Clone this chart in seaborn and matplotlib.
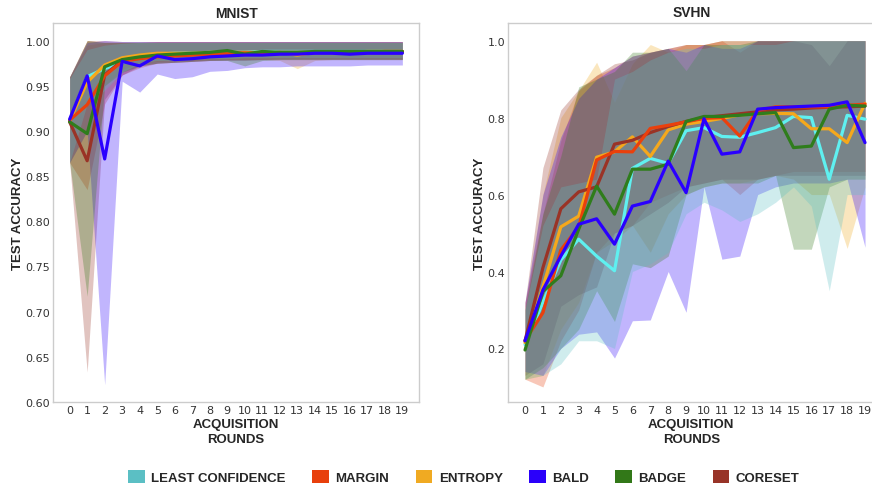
import numpy as np
import pandas as pd
import matplotlib
matplotlib.use("Agg")
import matplotlib.pyplot as plt
from matplotlib.patches import Patch
import seaborn as sns

rounds = list(range(20))
methods = ["LEAST CONFIDENCE", "MARGIN", "ENTROPY", "BALD", "BADGE", "CORESET"]
line_colors = {"LEAST CONFIDENCE": "#5ff0f0", "MARGIN": "#ea400c", "ENTROPY": "#f5a81c",
               "BALD": "#2a00ff", "BADGE": "#2f7d1c", "CORESET": "#9a3326"}
legend_colors = {"LEAST CONFIDENCE": "#5bbfc4", "MARGIN": "#e8400c", "ENTROPY": "#f0aa22",
                 "BALD": "#2a00fa", "BADGE": "#327818", "CORESET": "#983428"}

# ---------------- MNIST ----------------
mnist_lc = [0.911, 0.960, 0.969, 0.976, 0.982, 0.985, 0.986, 0.986, 0.987, 0.987, 0.987, 0.988, 0.988, 0.988, 0.988, 0.988, 0.988, 0.988, 0.988, 0.988]
mnist_margin = [0.912, 0.929, 0.961, 0.977, 0.980, 0.982, 0.983, 0.984, 0.985, 0.986, 0.986, 0.986, 0.987, 0.987, 0.987, 0.987, 0.987, 0.987, 0.988, 0.988]
mnist_entropy = [0.911, 0.954, 0.973, 0.981, 0.984, 0.986, 0.986, 0.986, 0.987, 0.987, 0.987, 0.987, 0.987, 0.984, 0.987, 0.987, 0.987, 0.988, 0.988, 0.988]
mnist_bald = [0.913, 0.961, 0.869, 0.977, 0.972, 0.983, 0.979, 0.980, 0.982, 0.983, 0.984, 0.984, 0.985, 0.985, 0.986, 0.986, 0.985, 0.986, 0.986, 0.986]
mnist_badge = [0.910, 0.897, 0.971, 0.979, 0.982, 0.984, 0.985, 0.986, 0.987, 0.989, 0.985, 0.988, 0.987, 0.987, 0.988, 0.988, 0.988, 0.988, 0.988, 0.988]
mnist_coreset = [0.910, 0.867, 0.962, 0.978, 0.981, 0.983, 0.984, 0.985, 0.985, 0.986, 0.986, 0.986, 0.987, 0.987, 0.987, 0.987, 0.987, 0.987, 0.987, 0.987]

mnist_lc_lo = [0.865, 0.930, 0.945, 0.965, 0.975, 0.978, 0.978, 0.979, 0.980, 0.980, 0.981, 0.981, 0.981, 0.981, 0.981, 0.981, 0.981, 0.981, 0.981, 0.981]
mnist_lc_hi = [0.958, 0.990, 0.995, 0.997, 0.998, 0.998, 0.998, 0.998, 0.998, 0.998, 0.998, 0.998, 0.998, 0.998, 0.998, 0.998, 0.998, 0.998, 0.998, 0.998]
mnist_margin_lo = [0.865, 0.835, 0.930, 0.962, 0.970, 0.975, 0.976, 0.977, 0.978, 0.979, 0.979, 0.979, 0.980, 0.980, 0.980, 0.980, 0.980, 0.980, 0.980, 0.980]
mnist_margin_hi = [0.960, 1.000, 0.998, 0.998, 0.998, 0.999, 0.999, 0.999, 0.999, 0.999, 0.999, 0.999, 0.999, 0.999, 0.999, 0.999, 0.999, 0.999, 0.999, 0.999]
mnist_entropy_lo = [0.865, 0.900, 0.950, 0.968, 0.975, 0.977, 0.978, 0.978, 0.979, 0.979, 0.979, 0.979, 0.978, 0.969, 0.978, 0.979, 0.979, 0.979, 0.979, 0.979]
mnist_entropy_hi = [0.960, 0.995, 0.998, 0.998, 0.998, 0.998, 0.998, 0.998, 0.998, 0.998, 0.998, 0.998, 0.998, 0.998, 0.998, 0.998, 0.998, 0.998, 0.998, 0.998]
mnist_bald_lo = [0.865, 0.900, 0.619, 0.955, 0.943, 0.963, 0.958, 0.960, 0.966, 0.967, 0.970, 0.971, 0.971, 0.972, 0.972, 0.972, 0.972, 0.973, 0.973, 0.973]
mnist_bald_hi = [0.960, 0.998, 1.000, 0.999, 0.999, 0.999, 0.999, 0.999, 0.999, 0.999, 0.999, 0.999, 0.999, 0.999, 0.999, 0.999, 0.999, 0.999, 0.999, 0.999]
mnist_badge_lo = [0.865, 0.717, 0.950, 0.965, 0.972, 0.975, 0.976, 0.977, 0.978, 0.978, 0.972, 0.978, 0.979, 0.979, 0.979, 0.979, 0.979, 0.979, 0.979, 0.979]
mnist_badge_hi = [0.960, 1.000, 0.998, 0.998, 0.998, 0.998, 0.998, 0.998, 0.998, 0.998, 0.998, 0.998, 0.998, 0.998, 0.998, 0.998, 0.998, 0.998, 0.998, 0.998]
mnist_coreset_lo = [0.865, 0.633, 0.935, 0.962, 0.972, 0.975, 0.976, 0.977, 0.978, 0.978, 0.978, 0.979, 0.979, 0.979, 0.979, 0.979, 0.979, 0.979, 0.979, 0.979]
mnist_coreset_hi = [0.960, 1.000, 1.000, 0.999, 0.999, 0.999, 0.999, 0.999, 0.999, 0.999, 0.999, 0.999, 0.999, 0.999, 0.999, 0.999, 0.999, 0.999, 0.999, 0.999]

# ---------------- SVHN ----------------
svhn_lc = [0.210, 0.320, 0.430, 0.484, 0.440, 0.402, 0.668, 0.694, 0.681, 0.766, 0.774, 0.751, 0.749, 0.761, 0.774, 0.803, 0.800, 0.640, 0.806, 0.796]
svhn_margin = [0.220, 0.293, 0.456, 0.516, 0.690, 0.712, 0.711, 0.772, 0.780, 0.789, 0.798, 0.800, 0.752, 0.819, 0.828, 0.828, 0.828, 0.828, 0.832, 0.835]
svhn_entropy = [0.215, 0.360, 0.516, 0.544, 0.697, 0.711, 0.750, 0.699, 0.768, 0.783, 0.790, 0.798, 0.807, 0.810, 0.811, 0.810, 0.771, 0.771, 0.735, 0.837]
svhn_bald = [0.220, 0.352, 0.440, 0.523, 0.537, 0.471, 0.570, 0.582, 0.687, 0.605, 0.797, 0.705, 0.711, 0.822, 0.826, 0.828, 0.830, 0.832, 0.841, 0.735]
svhn_badge = [0.196, 0.348, 0.389, 0.510, 0.622, 0.549, 0.666, 0.666, 0.679, 0.790, 0.803, 0.803, 0.806, 0.810, 0.813, 0.722, 0.726, 0.822, 0.832, 0.830]
svhn_coreset = [0.220, 0.410, 0.563, 0.607, 0.620, 0.731, 0.741, 0.761, 0.777, 0.790, 0.800, 0.805, 0.810, 0.815, 0.820, 0.822, 0.825, 0.827, 0.828, 0.830]

svhn_lc_lo = [0.120, 0.130, 0.160, 0.220, 0.220, 0.200, 0.400, 0.420, 0.450, 0.550, 0.580, 0.560, 0.530, 0.550, 0.580, 0.620, 0.570, 0.350, 0.600, 0.600]
svhn_lc_hi = [0.300, 0.520, 0.620, 0.630, 0.640, 0.900, 0.920, 0.950, 0.970, 0.980, 0.980, 0.990, 0.990, 0.990, 0.990, 1.000, 1.000, 1.000, 1.000, 1.000]
svhn_margin_lo = [0.120, 0.100, 0.220, 0.300, 0.450, 0.500, 0.520, 0.580, 0.600, 0.620, 0.630, 0.640, 0.600, 0.640, 0.650, 0.660, 0.660, 0.660, 0.660, 0.660]
svhn_margin_hi = [0.320, 0.550, 0.740, 0.870, 0.910, 0.930, 0.960, 0.970, 0.980, 0.990, 0.990, 1.000, 0.970, 1.000, 1.000, 1.000, 1.000, 1.000, 1.000, 1.000]
svhn_entropy_lo = [0.120, 0.130, 0.250, 0.320, 0.450, 0.480, 0.520, 0.450, 0.550, 0.600, 0.620, 0.630, 0.630, 0.640, 0.650, 0.640, 0.600, 0.600, 0.460, 0.620]
svhn_entropy_hi = [0.310, 0.600, 0.800, 0.870, 0.944, 0.840, 0.940, 0.990, 0.970, 0.990, 0.990, 1.000, 1.000, 1.000, 1.000, 1.000, 1.000, 1.000, 1.000, 1.000]
svhn_bald_lo = [0.140, 0.130, 0.200, 0.237, 0.243, 0.175, 0.272, 0.274, 0.400, 0.294, 0.620, 0.432, 0.440, 0.600, 0.620, 0.630, 0.630, 0.630, 0.640, 0.463]
svhn_bald_hi = [0.320, 0.600, 0.750, 0.850, 0.900, 0.930, 0.960, 0.970, 0.980, 0.970, 0.990, 0.980, 0.980, 1.000, 1.000, 1.000, 1.000, 1.000, 1.000, 1.000]
svhn_badge_lo = [0.120, 0.150, 0.200, 0.250, 0.350, 0.270, 0.420, 0.410, 0.440, 0.600, 0.620, 0.630, 0.630, 0.630, 0.650, 0.458, 0.458, 0.620, 0.640, 0.640]
svhn_badge_hi = [0.300, 0.550, 0.700, 0.880, 0.900, 0.920, 0.970, 0.970, 0.980, 0.922, 0.990, 0.990, 0.990, 1.000, 1.000, 1.000, 1.000, 1.000, 1.000, 1.000]
svhn_coreset_lo = [0.130, 0.160, 0.310, 0.340, 0.360, 0.500, 0.520, 0.550, 0.580, 0.620, 0.630, 0.640, 0.640, 0.640, 0.650, 0.650, 0.650, 0.650, 0.650, 0.650]
svhn_coreset_hi = [0.320, 0.670, 0.820, 0.874, 0.910, 0.940, 0.950, 0.970, 0.980, 0.990, 0.990, 1.000, 1.000, 1.000, 1.000, 1.000, 0.990, 0.935, 1.000, 1.000]

mnist = {
    "LEAST CONFIDENCE": (mnist_lc, mnist_lc_lo, mnist_lc_hi),
    "MARGIN": (mnist_margin, mnist_margin_lo, mnist_margin_hi),
    "ENTROPY": (mnist_entropy, mnist_entropy_lo, mnist_entropy_hi),
    "BALD": (mnist_bald, mnist_bald_lo, mnist_bald_hi),
    "BADGE": (mnist_badge, mnist_badge_lo, mnist_badge_hi),
    "CORESET": (mnist_coreset, mnist_coreset_lo, mnist_coreset_hi),
}
svhn = {
    "LEAST CONFIDENCE": (svhn_lc, svhn_lc_lo, svhn_lc_hi),
    "MARGIN": (svhn_margin, svhn_margin_lo, svhn_margin_hi),
    "ENTROPY": (svhn_entropy, svhn_entropy_lo, svhn_entropy_hi),
    "BALD": (svhn_bald, svhn_bald_lo, svhn_bald_hi),
    "BADGE": (svhn_badge, svhn_badge_lo, svhn_badge_hi),
    "CORESET": (svhn_coreset, svhn_coreset_lo, svhn_coreset_hi),
}

band_order = ["MARGIN", "ENTROPY", "CORESET", "BALD", "BADGE", "LEAST CONFIDENCE"]
line_order = ["LEAST CONFIDENCE", "ENTROPY", "CORESET", "MARGIN", "BADGE", "BALD"]

sns.set_style("white")
plt.rcParams["font.family"] = ["DejaVu Sans"]

fig = plt.figure(figsize=(8.72, 4.89), dpi=100)
ax1 = fig.add_axes([0.0608, 0.176, 0.4197, 0.774])
ax2 = fig.add_axes([0.5826, 0.176, 0.4289, 0.775])

bold_font = dict(family=["Liberation Sans", "DejaVu Sans"], weight="bold")


def draw(ax, data, title):
    rows = []
    for m in methods:
        for r, v in zip(rounds, data[m][0]):
            rows.append({"round": r, "acc": v, "method": m})
    df = pd.DataFrame(rows)
    for m in band_order:
        _, lo, hi = data[m]
        ax.fill_between(rounds, lo, hi, color=legend_colors[m], alpha=0.29, linewidth=0)
    sns.lineplot(data=df, x="round", y="acc", hue="method", hue_order=line_order,
                 palette=line_colors, linewidth=2.3, errorbar=None, legend=False, ax=ax)
    ax.set_xlim(-0.95, 19.95)
    ax.set_xticks(rounds)
    ax.set_xticklabels([str(r) for r in rounds])
    ax.tick_params(axis="both", length=0, labelsize=8, colors="#333333")
    ax.tick_params(axis="x", pad=2.5)
    ax.tick_params(axis="y", pad=2)
    ax.set_title(title, fontsize=10, pad=5, **bold_font)
    ax.set_xlabel("ACQUISITION\nROUNDS", fontsize=9.5, linespacing=1.3, **bold_font)
    ax.set_ylabel("TEST ACCURACY", fontsize=9.5, **bold_font)
    for s in ax.spines.values():
        s.set_color("#cccccc")
        s.set_linewidth(1.0)


draw(ax1, mnist, "MNIST")
ax1.set_ylim(0.60, 1.019)
ax1.set_yticks([0.60, 0.65, 0.70, 0.75, 0.80, 0.85, 0.90, 0.95, 1.00])
ax1.set_yticklabels([f"{v:.2f}" for v in [0.60, 0.65, 0.70, 0.75, 0.80, 0.85, 0.90, 0.95, 1.00]])
ax1.yaxis.set_label_coords(-0.078, 0.5)
ax1.xaxis.set_label_coords(0.5, -0.043)

draw(ax2, svhn, "SVHN")
ax2.set_ylim(0.061, 1.046)
ax2.set_yticks([0.2, 0.4, 0.6, 0.8, 1.0])
ax2.set_yticklabels([f"{v:.1f}" for v in [0.2, 0.4, 0.6, 0.8, 1.0]])
ax2.yaxis.set_label_coords(-0.058, 0.5)
ax2.xaxis.set_label_coords(0.49, -0.043)
ax2.title.set_position((0.49, 1.0))

for ax in (ax1, ax2):
    ax.xaxis.label.set_verticalalignment("top")

handles = [Patch(facecolor=legend_colors[m], edgecolor="none") for m in methods]
fig.legend(handles, methods, loc="center", bbox_to_anchor=(0.532, 0.023), ncol=6,
           frameon=False, prop=dict(family=["Liberation Sans", "DejaVu Sans"], weight="bold", size=9.5),
           handlelength=1.25, handleheight=1.25, handletextpad=0.5, columnspacing=2.0)

fig.savefig("out.png", dpi=100)
